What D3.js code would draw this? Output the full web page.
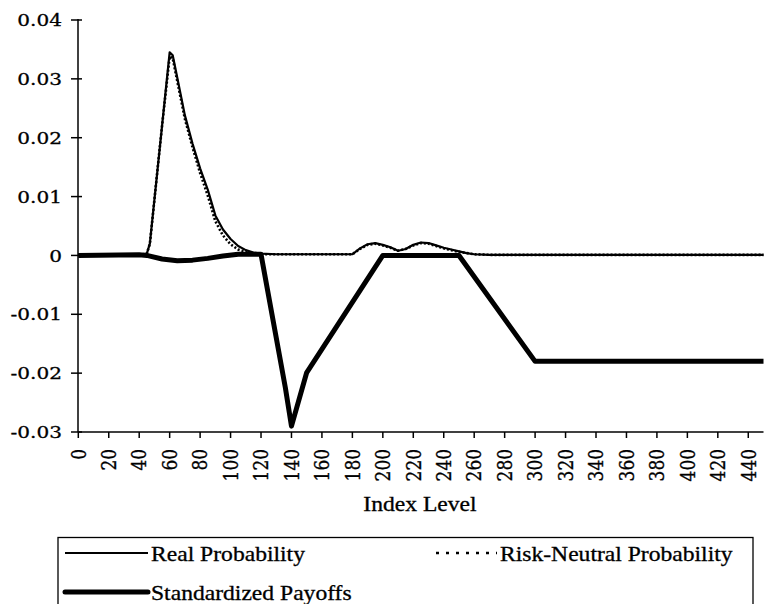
<!DOCTYPE html>
<html><head><meta charset="utf-8">
<script src="https://cdn.jsdelivr.net/npm/d3@7"></script>
<style>body{margin:0;background:#fff}svg{display:block}text{stroke:#000;stroke-width:0.3px}</style>
</head><body>
<svg id="c" width="765" height="604"></svg>
<script>
// ---- data ----
const realX = [0,10,20,30,40,45,47,50,55,60,62,65,70,75,80,85,90,95,100,105,110,115,120,130,150,170,180,185,190,195,200,205,210,215,220,225,230,235,240,245,250,255,260,270,300,350,400,450];
const realY = [0.0001,0.0001,0.0001,0.0001,0.0001,0.0003,0.002,0.0095,0.022,0.0345,0.034,0.0302,0.0238,0.019,0.0148,0.0112,0.0068,0.0044,0.0028,0.0016,0.0009,0.0005,0.0003,0.0002,0.0002,0.0002,0.0002,0.0012,0.0019,0.0021,0.0018,0.0014,0.0008,0.0011,0.0018,0.0022,0.0021,0.0017,0.0013,0.001,0.0007,0.0004,0.0002,0.0001,0.0001,0.0001,0.0001,0.0001];
const rnX = [0,10,20,30,40,45,47,50,55,60,62,65,70,75,80,85,90,95,100,105,110,115,120,130,150,170,180,185,190,195,200,205,210,215,220,225,230,235,240,245,250,255,260,270,300,350,400,450];
const rnY = [0.0001,0.0001,0.0001,0.0001,0.0001,0.0003,0.002,0.0095,0.022,0.0338,0.0335,0.0296,0.0232,0.0184,0.014,0.0102,0.0058,0.0034,0.0019,0.001,0.0006,0.0003,0.0002,0.0002,0.0002,0.0002,0.0002,0.0011,0.0018,0.002,0.0017,0.0013,0.0008,0.0011,0.0017,0.0021,0.002,0.0016,0.0012,0.0009,0.0006,0.0004,0.0002,0.0001,0.0001,0.0001,0.0001,0.0001];
const payX = [0,40,45,55,65,75,85,95,105,115,120,136,140,150,200,250,300,450];
const payY = [0,0.0001,0,-0.0006,-0.0009,-0.0008,-0.0005,-0.0001,0.0002,0.0002,0.0002,-0.0225,-0.029,-0.0199,0,0,-0.018,-0.018];
const xTicks = d3.range(0, 441, 20);
const yTicks = [0.04,0.03,0.02,0.01,0,-0.01,-0.02,-0.03];
const yTickLabels = ["0.04","0.03","0.02","0.01","0","-0.01","-0.02","-0.03"];
const xTitle = "Index Level";
const seriesNames = ["Real Probability","Risk-Neutral Probability","Standardized Payoffs"];

// ---- layout ----
const SX = 1.18;
const svg = d3.select("#c");
const x = d3.scaleLinear().domain([0,450]).range([78.3,763.5]);
const y = d3.scaleLinear().domain([-0.03,0.04]).range([432,20]);
const numFont = "'DejaVu Serif', serif";
const txtFont = "'Liberation Serif', 'Times New Roman', serif";

// y axis
const yAxis = svg.append("g").attr("transform","translate(78,0)");
yAxis.append("line").attr("x1",0).attr("x2",0).attr("y1",y(0.04)-1).attr("y2",y(-0.03)).attr("stroke","#000").attr("stroke-width",1.5);
yTicks.forEach((t,i)=>{
  yAxis.append("line").attr("x1",-7).attr("x2",4).attr("y1",y(t)).attr("y2",y(t)).attr("stroke","#000").attr("stroke-width",1.5);
  svg.append("text").attr("transform",`translate(62,${y(t)}) scale(${SX},1)`)
    .attr("dy","0.36em").attr("text-anchor","end")
    .style("font-family",numFont).attr("font-size",17).text(yTickLabels[i]);
});

// x axis
const xAxis = svg.append("g").attr("transform",`translate(0,${y(-0.03)})`);
xAxis.append("line").attr("x1",x(0)).attr("x2",x(450)).attr("stroke","#000").attr("stroke-width",1.5);
xTicks.forEach(t=>{
  xAxis.append("line").attr("x1",x(t)).attr("x2",x(t)).attr("y1",0).attr("y2",6).attr("stroke","#000").attr("stroke-width",1.5);
  svg.append("text").attr("transform",`translate(${x(t)},449) scale(${SX},1) rotate(-90)`)
    .attr("dy","0.36em").attr("text-anchor","end")
    .style("font-family",numFont).attr("font-size",17).text(t);
});
svg.append("text").attr("transform",`translate(420,511) scale(${SX},1)`)
  .attr("text-anchor","middle").style("font-family",txtFont).attr("font-size",20).text(xTitle);

// series
const line = d3.line().x(d=>x(d[0])).y(d=>y(d[1]));
const zip = (a,b)=>a.map((v,i)=>[v,b[i]]);
svg.append("path").datum(zip(realX,realY)).attr("d",line).attr("fill","none").attr("stroke","#000").attr("stroke-width",2.2).attr("stroke-linejoin","round");
svg.append("path").datum(zip(rnX,rnY)).attr("d",line).attr("fill","none").attr("stroke","#000").attr("stroke-width",2.6).attr("stroke-dasharray","2,2");
svg.append("path").datum(zip(payX,payY)).attr("d",line).attr("fill","none").attr("stroke","#000").attr("stroke-width",5).attr("stroke-linejoin","round");

// legend
const lg = svg.append("g");
lg.append("rect").attr("x",58).attr("y",537.5).attr("width",695).attr("height",90).attr("fill","none").attr("stroke","#000").attr("stroke-width",1.3);
const items = [
  {name:seriesNames[0], x1:65, x2:148, y:553, w:2.2, dash:null, tx:151, ty:561},
  {name:seriesNames[1], x1:436, x2:497, y:553, w:2.4, dash:"3,7", tx:500, ty:561},
  {name:seriesNames[2], x1:65, x2:148, y:592, w:5, dash:null, tx:151, ty:600}
];
items.forEach(it=>{
  lg.append("line").attr("x1",it.x1).attr("x2",it.x2).attr("y1",it.y).attr("y2",it.y).attr("stroke","#000").attr("stroke-width",it.w).attr("stroke-dasharray",it.dash).attr("stroke-linecap",it.w>3?"round":"butt");
  lg.append("text").attr("transform",`translate(${it.tx},${it.ty}) scale(${SX},1)`)
    .style("font-family",txtFont).attr("font-size",20).text(it.name);
});
</script>
</body></html>
